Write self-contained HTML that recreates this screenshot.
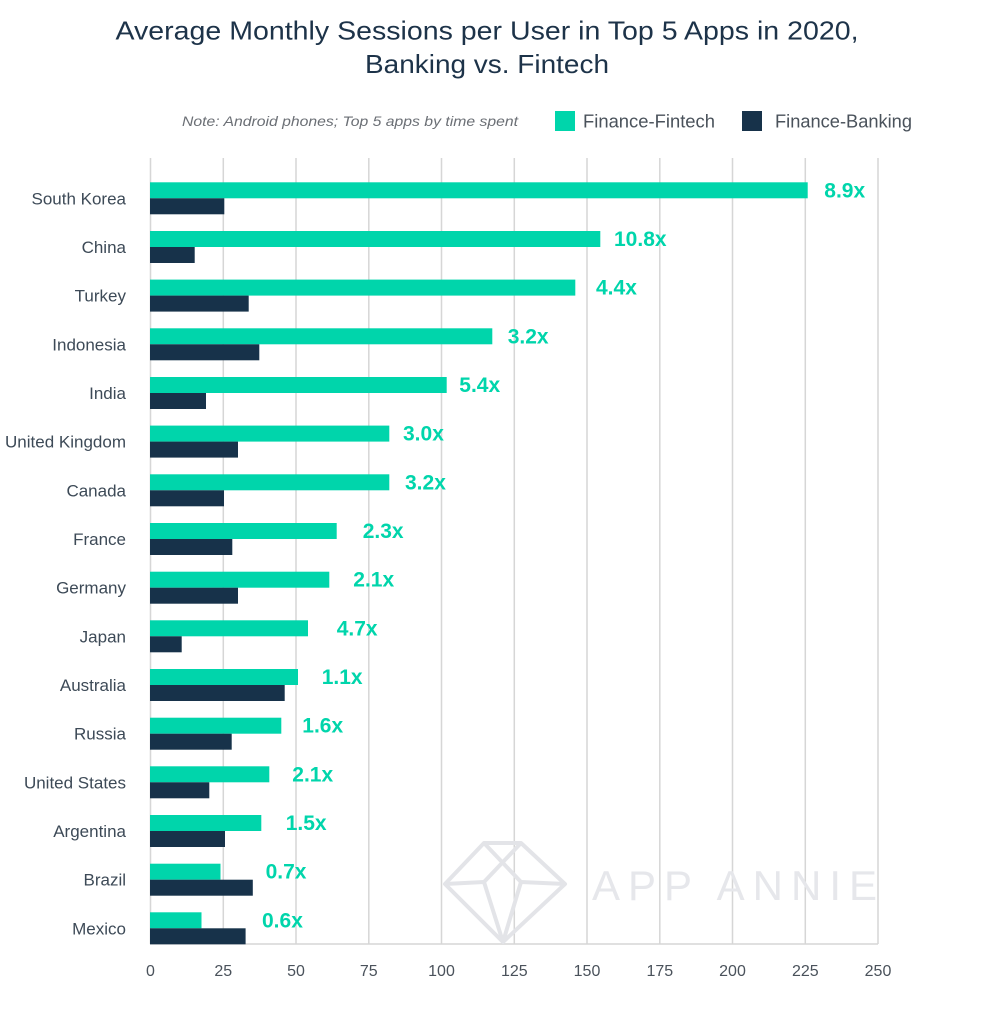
<!DOCTYPE html>
<html><head><meta charset="utf-8"><style>
html,body{margin:0;padding:0;background:#fff;}
svg{display:block;}
</style></head><body>
<svg width="1000" height="1019" viewBox="0 0 1000 1019" xmlns="http://www.w3.org/2000/svg" font-family="'Liberation Sans', sans-serif">
<rect width="1000" height="1019" fill="#fff"/>
<!-- Title -->
<text x="487" y="39.5" text-anchor="middle" font-size="26" fill="#1d3349" textLength="743" lengthAdjust="spacingAndGlyphs">Average Monthly Sessions per User in Top 5 Apps in 2020,</text>
<text x="487" y="73" text-anchor="middle" font-size="26" fill="#1d3349" textLength="244" lengthAdjust="spacingAndGlyphs">Banking vs. Fintech</text>
<!-- Legend -->
<text x="182" y="126" font-size="14" font-style="italic" fill="#6b6f75" textLength="336" lengthAdjust="spacingAndGlyphs">Note: Android phones; Top 5 apps by time spent</text>
<rect x="555" y="111" width="20" height="20" fill="#00d5ab"/>
<text x="583" y="127.3" font-size="18.5" fill="#4a525b" textLength="132" lengthAdjust="spacingAndGlyphs">Finance-Fintech</text>
<rect x="742" y="111" width="20" height="20" fill="#17324a"/>
<text x="775" y="127.3" font-size="18.5" fill="#4a525b" textLength="137" lengthAdjust="spacingAndGlyphs">Finance-Banking</text>
<!-- Gridlines -->
<g stroke="#d6d6d6" stroke-width="1.5">
<line x1="150.5" y1="158" x2="150.5" y2="944"/>
<line x1="223.3" y1="158" x2="223.3" y2="944"/>
<line x1="296" y1="158" x2="296" y2="944"/>
<line x1="368.8" y1="158" x2="368.8" y2="944"/>
<line x1="441.5" y1="158" x2="441.5" y2="944"/>
<line x1="514.3" y1="158" x2="514.3" y2="944"/>
<line x1="587" y1="158" x2="587" y2="944"/>
<line x1="659.8" y1="158" x2="659.8" y2="944"/>
<line x1="732.5" y1="158" x2="732.5" y2="944"/>
<line x1="805.3" y1="158" x2="805.3" y2="944"/>
<line x1="878" y1="158" x2="878" y2="944"/>
<line x1="150" y1="944" x2="878" y2="944"/>
</g>
<!-- Watermark -->
<g fill="none" stroke="#e3e4e8" stroke-width="4" stroke-linejoin="round">
<polygon points="484,843 521,843 565,884 503,942 445,884"/>
<polyline points="445,884 484,882 503,942 521,882 565,884"/>
<line x1="484" y1="843" x2="521" y2="882"/>
<line x1="521" y1="843" x2="484" y2="882"/>
</g>
<text x="592" y="900" font-size="42" fill="#e6e7eb" textLength="285" lengthAdjust="spacing">APP ANNIE</text>
<!-- Bars -->
<g fill="#00d5ab">
<rect x="150" y="182.3" width="657.7" height="16"/>
<rect x="150" y="231" width="450.3" height="16"/>
<rect x="150" y="279.6" width="425.3" height="16"/>
<rect x="150" y="328.3" width="342.3" height="16"/>
<rect x="150" y="377" width="296.7" height="16"/>
<rect x="150" y="425.6" width="239.3" height="16"/>
<rect x="150" y="474.3" width="239.3" height="16"/>
<rect x="150" y="523" width="186.7" height="16"/>
<rect x="150" y="571.7" width="179.3" height="16"/>
<rect x="150" y="620.3" width="158" height="16"/>
<rect x="150" y="669" width="148" height="16"/>
<rect x="150" y="717.7" width="131.3" height="16"/>
<rect x="150" y="766.3" width="119.3" height="16"/>
<rect x="150" y="815" width="111.3" height="16"/>
<rect x="150" y="863.7" width="70.5" height="16"/>
<rect x="150" y="912.3" width="51.5" height="16"/>
</g>
<g fill="#17324a">
<rect x="150" y="198.3" width="74.3" height="16"/>
<rect x="150" y="247" width="44.7" height="16"/>
<rect x="150" y="295.6" width="98.7" height="16"/>
<rect x="150" y="344.3" width="109.3" height="16"/>
<rect x="150" y="393" width="56" height="16"/>
<rect x="150" y="441.6" width="88" height="16"/>
<rect x="150" y="490.3" width="74" height="16"/>
<rect x="150" y="539" width="82.3" height="16"/>
<rect x="150" y="587.7" width="88" height="16"/>
<rect x="150" y="636.3" width="31.7" height="16"/>
<rect x="150" y="685" width="134.7" height="16"/>
<rect x="150" y="733.7" width="81.7" height="16"/>
<rect x="150" y="782.3" width="59.3" height="16"/>
<rect x="150" y="831" width="75" height="16"/>
<rect x="150" y="879.7" width="102.8" height="16"/>
<rect x="150" y="928.3" width="95.6" height="16"/>
</g>
<!-- Value labels -->
<g fill="#00d5ab" font-size="21" font-weight="bold">
<text x="824.3" y="197.3">8.9x</text>
<text x="614" y="246">10.8x</text>
<text x="596" y="294.6">4.4x</text>
<text x="507.7" y="343.3">3.2x</text>
<text x="459.3" y="392">5.4x</text>
<text x="403" y="440.6">3.0x</text>
<text x="405" y="489.3">3.2x</text>
<text x="362.7" y="538">2.3x</text>
<text x="353.3" y="586.7">2.1x</text>
<text x="336.7" y="635.3">4.7x</text>
<text x="321.7" y="684">1.1x</text>
<text x="302.3" y="732.7">1.6x</text>
<text x="292.3" y="781.3">2.1x</text>
<text x="285.7" y="830">1.5x</text>
<text x="265.6" y="878.7">0.7x</text>
<text x="262" y="927.3">0.6x</text>
</g>
<!-- Category labels -->
<g fill="#3d4a57" font-size="17" text-anchor="end">
<text x="126" y="204.3">South Korea</text>
<text x="126" y="253">China</text>
<text x="126" y="301.6">Turkey</text>
<text x="126" y="350.3">Indonesia</text>
<text x="126" y="399">India</text>
<text x="126" y="447.6">United Kingdom</text>
<text x="126" y="496.3">Canada</text>
<text x="126" y="545">France</text>
<text x="126" y="593.7">Germany</text>
<text x="126" y="642.3">Japan</text>
<text x="126" y="691">Australia</text>
<text x="126" y="739.7">Russia</text>
<text x="126" y="788.3">United States</text>
<text x="126" y="837">Argentina</text>
<text x="126" y="885.7">Brazil</text>
<text x="126" y="934.3">Mexico</text>
</g>
<!-- Tick labels -->
<g fill="#4a525b" font-size="16" text-anchor="middle">
<text x="150.5" y="976">0</text>
<text x="223.3" y="976">25</text>
<text x="296" y="976">50</text>
<text x="368.8" y="976">75</text>
<text x="441.5" y="976">100</text>
<text x="514.3" y="976">125</text>
<text x="587" y="976">150</text>
<text x="659.8" y="976">175</text>
<text x="732.5" y="976">200</text>
<text x="805.3" y="976">225</text>
<text x="878" y="976">250</text>
</g>
</svg>
</body></html>
